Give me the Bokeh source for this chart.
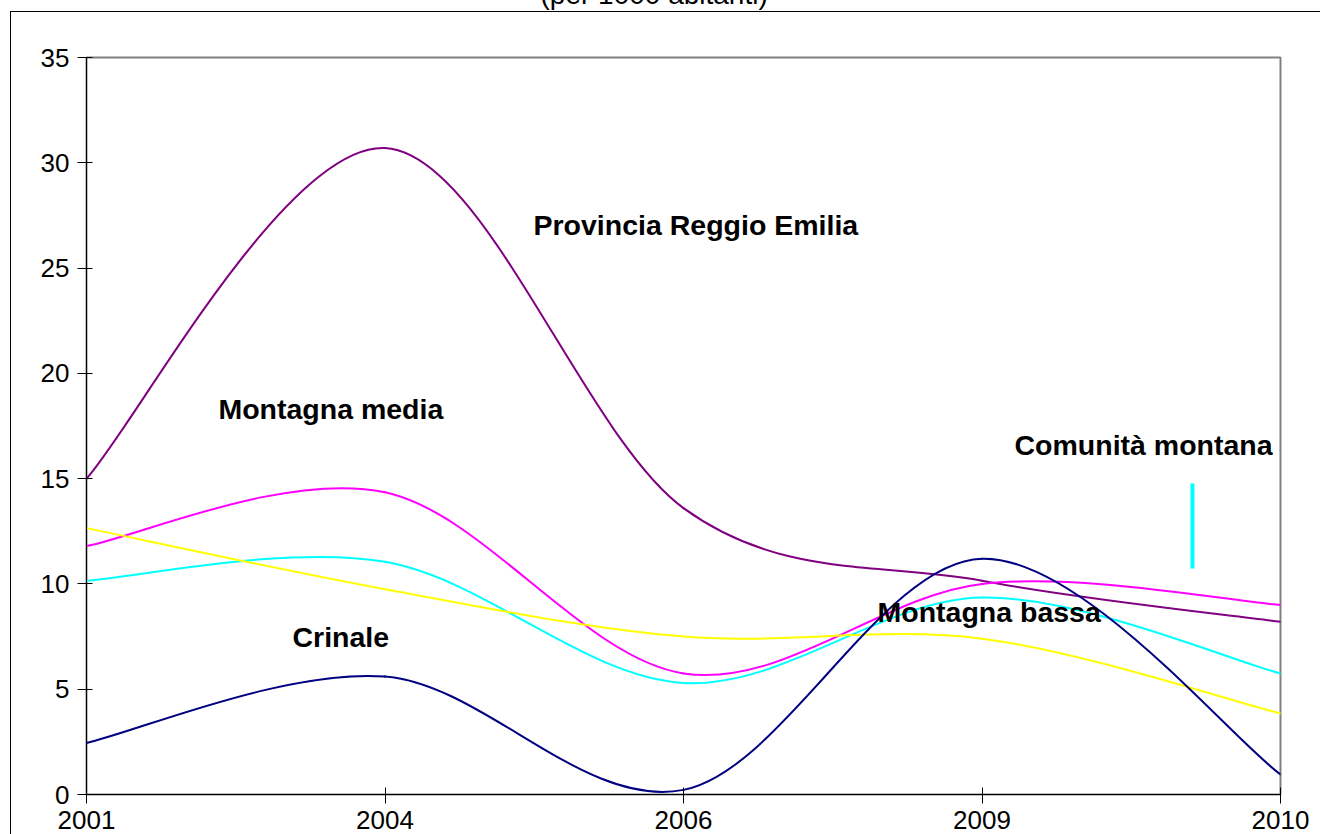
import numpy as np
from bokeh.plotting import figure
from bokeh.models import Range1d, FixedTicker
from bokeh.core.properties import value
from bokeh.embed import file_html
from bokeh.resources import INLINE

# ---- data ----
years = ["2001", "2004", "2006", "2009", "2010"]
provincia = [15.0, 30.7, 13.6, 10.15, 8.2]
montagna_media = [11.8, 14.35, 5.75, 10.0, 9.0]
montagna_bassa = [10.15, 11.05, 5.3, 9.35, 5.75]
comunita_montana = [12.65, 9.75, 7.5, 7.4, 3.85]
crinale = [2.45, 5.6, 0.22, 11.2, 0.95]

series_colors = ["#800080", "#FF00FF", "#00FFFF", "#FFFF00", "#000080"]
series_values = [provincia, montagna_media, montagna_bassa, comunita_montana, crinale]

label_texts = ["Provincia Reggio Emilia", "Montagna media", "Crinale",
               "Montagna bassa", "Comunità montana"]
label_x = [1.4975, 0.442, 0.690, 2.650, 3.109]
label_y = [27.05, 18.33, 7.48, 8.65, 16.62]

title_text = "(per 1000 abitanti)"
y_ticks = [0, 5, 10, 15, 20, 25, 30, 35]

FONT = "Liberation Sans"
SHIFT = 80  # canvas starts this many px above the window top

p = figure(width=1330, height=850 + SHIFT, output_backend="svg", toolbar_location=None,
           x_range=Range1d(0, len(years) - 1), y_range=Range1d(0, 35),
           min_border_left=86, min_border_right=50, min_border_top=57 + SHIFT,
           min_border_bottom=56)
p.styles = {
    "position": "fixed", "top": f"-{SHIFT}px", "left": "0px",
    "background": f"linear-gradient(#000,#000) 10px {11 + SHIFT}px / 1px 100% no-repeat, "
                  f"linear-gradient(#000,#000) 10px {11 + SHIFT}px / 100% 1px no-repeat, #ffffff",
}
p.border_fill_color = None
p.background_fill_color = "white"
p.outline_line_color = "#808080"
p.outline_line_width = 2
p.xgrid.visible = False
p.ygrid.visible = False

p.title.text = title_text
p.title.align = "left"
p.title.offset = 454
p.title.standoff = 95
p.title.text_font = FONT
p.title.text_font_size = "28px"
p.title.text_font_style = "normal"
p.title.text_color = "black"

# axes
p.xaxis.ticker = FixedTicker(ticks=list(range(len(years))))
p.xaxis.major_label_overrides = {i: y for i, y in enumerate(years)}
p.yaxis.ticker = FixedTicker(ticks=y_ticks)
for ax in (p.xaxis[0], p.yaxis[0]):
    ax.axis_line_color = "black"
    ax.axis_line_width = 1
    ax.major_tick_line_color = "black"
    ax.minor_tick_line_color = None
    ax.major_label_text_font = FONT
    ax.major_label_text_font_size = "26px"
    ax.major_label_text_color = "black"
p.yaxis.major_tick_out = 9
p.yaxis.major_tick_in = 6
p.yaxis.major_label_standoff = 8
p.xaxis.major_tick_out = 9
p.xaxis.major_tick_in = 7
p.xaxis.major_label_standoff = 7


def bezier_parts(vals):
    y = np.asarray(vals, dtype=float)
    x = np.arange(len(y), dtype=float)
    xp = np.concatenate([[x[0]], x, [x[-1]]])
    yp = np.concatenate([[y[0]], y, [y[-1]]])
    n = len(y) - 1
    x0 = xp[1:n + 1]; y0 = yp[1:n + 1]
    x1 = xp[2:n + 2]; y1 = yp[2:n + 2]
    cx0 = x0 + (xp[2:n + 2] - xp[0:n]) / 6.0
    cy0 = y0 + (yp[2:n + 2] - yp[0:n]) / 6.0
    cx1 = x1 - (xp[3:n + 3] - xp[1:n + 1]) / 6.0
    cy1 = y1 - (yp[3:n + 3] - yp[1:n + 1]) / 6.0
    return dict(x0=x0, y0=y0, x1=x1, y1=y1, cx0=cx0, cy0=cy0, cx1=cx1, cy1=cy1)


for vals, col in zip(series_values, series_colors):
    d = bezier_parts(vals)
    p.bezier(x0=d["x0"], y0=d["y0"], x1=d["x1"], y1=d["y1"],
             cx0=d["cx0"], cy0=d["cy0"], cx1=d["cx1"], cy1=d["cy1"],
             line_color=col, line_width=2, line_cap="round")

# small cyan mark near the "Comunità montana" label
p.segment(x0=[3.705], y0=[14.77], x1=[3.705], y1=[10.73],
          line_color="#00FFFF", line_width=4)

p.text(x=label_x, y=label_y, text=label_texts,
       text_font=value(FONT), text_font_style="bold", text_font_size="28.5px",
       text_color="black", text_align="left", text_baseline="alphabetic")

open("out.html", "w").write(file_html(p, INLINE))
